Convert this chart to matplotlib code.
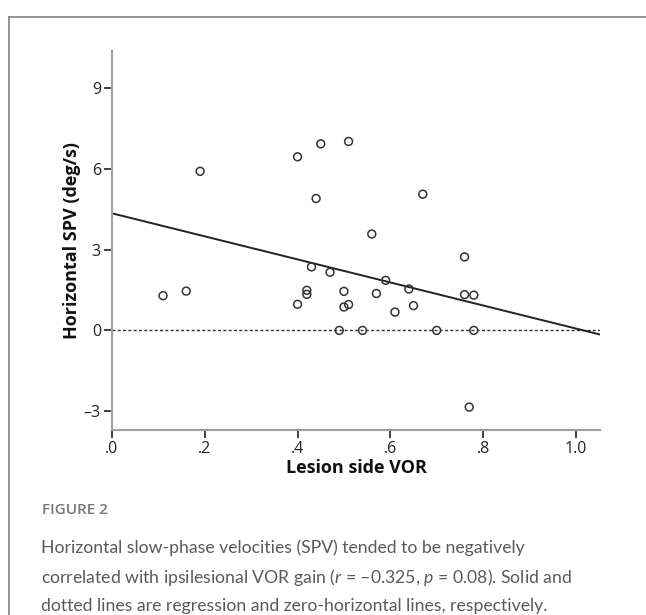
import matplotlib
matplotlib.use("Agg")
import matplotlib.pyplot as plt
from matplotlib.lines import Line2D
import numpy as np

plt.rcParams["mathtext.fontset"] = "custom"
plt.rcParams["mathtext.it"] = "Lato:italic"
plt.rcParams["mathtext.rm"] = "Lato"

# Data
vor_gain = [0.11, 0.16, 0.19, 0.40, 0.45, 0.51, 0.44, 0.43, 0.47, 0.42, 0.42, 0.40,
            0.50, 0.50, 0.51, 0.49, 0.67, 0.56, 0.76, 0.59, 0.57, 0.64, 0.76, 0.78,
            0.61, 0.65, 0.54, 0.70, 0.78, 0.77]
spv = [1.29, 1.46, 5.91, 6.45, 6.93, 7.02, 4.90, 2.36, 2.16, 1.49, 1.34, 0.97,
       1.45, 0.87, 0.96, 0.00, 5.06, 3.58, 2.73, 1.86, 1.37, 1.54, 1.33, 1.31,
       0.68, 0.92, 0.00, 0.00, 0.00, -2.85]
reg_intercept = 4.35
reg_slope = -4.28
x_ticks = [0.0, 0.2, 0.4, 0.6, 0.8, 1.0]
x_tick_labels = [".0", ".2", ".4", ".6", ".8", "1.0"]
y_ticks = [-3, 0, 3, 6, 9]
y_tick_labels = ["\u20133", "0", "3", "6", "9"]
caption_title = "FIGURE 2"
caption_lines = [
    "Horizontal slow-phase velocities (SPV) tended to be negatively",
    "correlated with ipsilesional VOR gain ($\\it{r}$ = \u20130.325, $\\it{p}$ = 0.08). Solid and",
    "dotted lines are regression and zero-horizontal lines, respectively.",
]

W, H = 646, 615
fig = plt.figure(figsize=(W / 100, H / 100), dpi=100)
fig.patch.set_facecolor("white")

# frame
fx = 8.5 / W
fy = 1 - 16.5 / H
fig.add_artist(Line2D([fx, fx], [0, fy], transform=fig.transFigure, color="#8a8a8a", lw=1.3))
fig.add_artist(Line2D([fx, 1.0], [fy, fy], transform=fig.transFigure, color="#8a8a8a", lw=1.3))

ax = fig.add_axes([112 / W, 1 - 430 / H, (600 - 112) / W, (430 - 51) / H])
xmin, xmax = 0.0, 1.052
ax.set_xlim(xmin, xmax)
ax.set_ylim(-3.7, 10.38)

for s in ["top", "right"]:
    ax.spines[s].set_visible(False)
for s in ["left", "bottom"]:
    ax.spines[s].set_color("#a0a0a0")
    ax.spines[s].set_linewidth(1.5)

# zero line
ax.axhline(0, color="#333333", lw=1.0, ls=(0, (2.2, 1.6)), zorder=1)
# regression line
xr = np.array([xmin, xmax])
ax.plot(xr, reg_intercept + reg_slope * xr, color="#222222", lw=1.4, zorder=2)
# points
ax.scatter(vor_gain, spv, s=32, facecolors="none", edgecolors="#333333", linewidths=1.1, zorder=3)

tick_font = dict(family="Open Sans", size=11.5, color="#222222")
ax.set_xticks(x_ticks)
ax.set_xticklabels(x_tick_labels, fontdict=tick_font)
ax.set_yticks(y_ticks)
ax.set_yticklabels(y_tick_labels, fontdict=tick_font)
ax.tick_params(axis="both", direction="out", length=6, width=1.3, color="#333333", pad=2)

ax.set_xlabel("Lesion side VOR", family="Open Sans", weight="bold", size=13, color="#111111", labelpad=1.5)
ax.set_ylabel("Horizontal SPV (deg/s)", family="Open Sans", weight="bold", size=13, color="#111111", labelpad=2)

# caption
fig.text(42 / W, 1 - 510 / H, caption_title, family="Open Sans", size=11, color="#777777",
         weight="semibold", va="center", ha="left")
for i, line in enumerate(caption_lines):
    fig.text(41 / W, 1 - (548 + 29 * i) / H, line, family="Lato", weight="normal", size=12.7,
             color="#5a5a5a", va="center", ha="left")

fig.savefig("out.png", dpi=100)
